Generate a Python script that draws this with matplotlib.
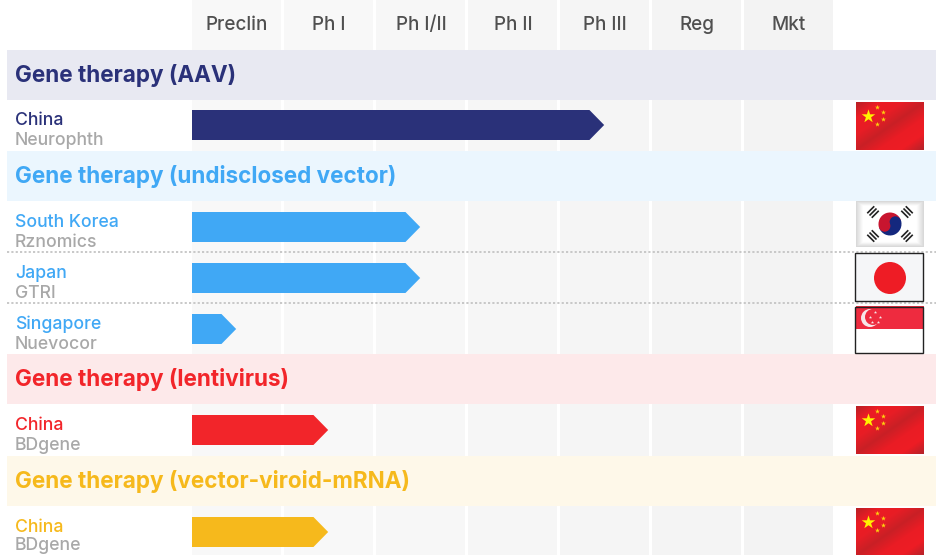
import numpy as np
import matplotlib.pyplot as plt
from matplotlib.patches import Circle, Polygon, Rectangle, Wedge
from matplotlib.colors import LinearSegmentedColormap

plt.rcParams['font.family'] = ['Inter', 'DejaVu Sans']

# Data
stages = ['Preclin', 'Ph I', 'Ph I/II', 'Ph II', 'Ph III', 'Reg', 'Mkt']
groups = ['Gene therapy (AAV)', 'Gene therapy (undisclosed vector)',
          'Gene therapy (lentivirus)', 'Gene therapy (vector-viroid-mRNA)']
countries = ['China', 'South Korea', 'Japan', 'Singapore', 'China', 'China']
companies = ['Neurophth', 'Rznomics', 'GTRI', 'Nuevocor', 'BDgene', 'BDgene']
progress = [4.48, 2.48, 2.48, 0.48, 1.48, 1.48]
row_group = [0, 1, 1, 1, 2, 3]

# Styles
group_colors = ['#2a3179', '#40a8f5', '#f2252a', '#f6b91c']
band_colors = ['#e8e9f2', '#ebf6fe', '#fde9ea', '#fef8e9']
column_colors = ['#f8f8f8', '#f8f8f8', '#f7f7f7', '#f6f6f6', '#f5f5f5', '#f4f4f4', '#f3f3f3']
band_tops = [50, 151, 354, 456]
row_tops = [101, 203, 254, 305, 406, 508]

fig = plt.figure(figsize=(9.37, 5.55), dpi=100)


def make_axes(left, right, zorder):
    ax = fig.add_axes([left / 937, 0, (right - left) / 937, 1], zorder=zorder)
    ax.set_ylim(555, 0)
    ax.axis('off')
    ax.patch.set_alpha(0)
    return ax


# Stage grid and bars, x in stage units
ax_bars = make_axes(192, 836, 1)
ax_bars.set_xlim(0, 7)
ax_bars.bar(np.arange(7) + 0.484, [555] * 7, width=0.968, bottom=0,
            color=column_colors, linewidth=0)
for i, stage in enumerate(stages):
    ax_bars.text(i + 0.49, 30, stage, ha='center', va='baseline',
                 fontsize=13.6, color='#505050', fontweight='medium')

tip = 0.16
for r, end in enumerate(progress):
    top = row_tops[r] + 9
    bottom = top + 30
    shoulder = max(end - tip, 0)
    ax_bars.add_patch(Polygon([(0, top), (shoulder, top), (end, (top + bottom) / 2),
                               (shoulder, bottom), (0, bottom)],
                              color=group_colors[row_group[r]], linewidth=0))

# Everything else, in pixels
ax = make_axes(0, 937, 2)
ax.set_xlim(0, 937)

for g, name in enumerate(groups):
    ax.add_patch(Rectangle((7, band_tops[g]), 930, 50, color=band_colors[g], linewidth=0))
    ax.text(15, band_tops[g] + 32, name, ha='left', va='baseline', fontsize=16.2,
            fontweight='bold', color=group_colors[g])

for r in range(len(countries)):
    ax.text(15, row_tops[r] + 24, countries[r], ha='left', va='baseline', fontsize=12.7,
            color=group_colors[row_group[r]], fontweight='medium')
    # last row sits right at the bottom edge, keep the descender inside
    ax.text(15, min(row_tops[r] + 44, 549.5), companies[r], ha='left', va='baseline',
            fontsize=12.7, color='#a8a8a8', fontweight='medium')

for y in [252, 303]:
    ax.plot([7, 937], [y, y], color='#c4c4c4', linewidth=1.3, linestyle=(0, (1.2, 1.2)))

sheen = LinearSegmentedColormap.from_list('sheen', ['#b92025', '#ec1c24', '#e81d25', '#c92026',
                                                    '#ea1c24', '#ee1c24', '#b5232a'])


def china_flag(y0):
    x0, x1, y1 = 856, 924, y0 + 48
    xx, yy = np.meshgrid(np.linspace(0, 1, 68), np.linspace(0, 1, 48))
    ax.imshow((xx + yy) / 2, extent=(x0, x1, y1, y0), cmap=sheen, aspect='auto',
              interpolation='bilinear', zorder=3)
    ax.scatter([868], [y0 + 14], marker='*', s=105, color='#fff200', linewidth=0, zorder=4)
    ax.scatter([877, 883, 883, 877], [y0 + 5, y0 + 10, y0 + 17, y0 + 22], marker='*', s=14,
               color='#fdd20e', linewidth=0, zorder=4)


def korea_flag():
    x0, x1, y0, y1 = 856, 924, 201, 247
    xx, yy = np.meshgrid(np.linspace(-1, 1, 68), np.linspace(-1, 1, 46))
    edge = np.clip(np.maximum(np.abs(xx), np.abs(yy)), 0.8, 1)
    ax.imshow(1 - (edge - 0.8) * 0.75, extent=(x0, x1, y1, y0), cmap='gray', vmin=0, vmax=1,
              aspect='auto', interpolation='bilinear', zorder=3)
    cx, cy = 890, 224
    # y axis points down, so angles run clockwise on screen
    ax.add_patch(Wedge((cx, cy), 11.5, 160, 340, color='#c8152f', linewidth=0, zorder=4))
    ax.add_patch(Wedge((cx, cy), 11.5, 340, 160, color='#14287e', linewidth=0, zorder=4))
    d = np.array([np.cos(np.radians(340)), np.sin(np.radians(340))]) * 5.7
    ax.add_patch(Circle((cx + d[0], cy + d[1]), 5.75, color='#14287e', linewidth=0, zorder=5))
    ax.add_patch(Circle((cx - d[0], cy - d[1]), 5.75, color='#c8152f', linewidth=0, zorder=5))
    for sx, sy in [(-1, -1), (1, -1), (-1, 1), (1, 1)]:
        mx, my = cx + sx * 17, cy + sy * 12
        nx, ny = sx * 0.7, sy * 0.7
        for k in [-3.2, 0, 3.2]:
            ax.plot([mx + nx * k + ny * 5, mx + nx * k - ny * 5],
                    [my + ny * k - nx * 5, my + ny * k + nx * 5],
                    color='#222222', linewidth=1.2, zorder=4, solid_capstyle='butt')


def japan_flag():
    ax.add_patch(Rectangle((855.5, 252.5), 68, 48, facecolor='#f5f6f8', edgecolor='#222222',
                           linewidth=1.0, zorder=3))
    ax.add_patch(Circle((890, 278), 16, color='#ee1c25', linewidth=0, zorder=4))


def singapore_flag():
    ax.add_patch(Rectangle((856, 306), 68, 23, color='#ee2b3f', linewidth=0, zorder=3))
    ax.add_patch(Rectangle((855.5, 306.5), 68, 46, facecolor='none', edgecolor='#222222',
                           linewidth=1.0, zorder=5))
    ax.add_patch(Circle((870, 318), 9, color='#f6e6e8', linewidth=0, zorder=4))
    ax.add_patch(Circle((873, 317), 8, color='#ee2b3f', linewidth=0, zorder=4))
    ax.scatter([875, 880, 870.5, 878, 872], [312, 316.5, 316.5, 322, 322], marker='*', s=6,
               color='#f6e6e8', linewidth=0, zorder=4)


china_flag(102)
korea_flag()
japan_flag()
singapore_flag()
china_flag(406)
china_flag(508)

ax.set_xlim(0, 937)
ax.set_ylim(555, 0)

plt.savefig('out.png', dpi=100)
